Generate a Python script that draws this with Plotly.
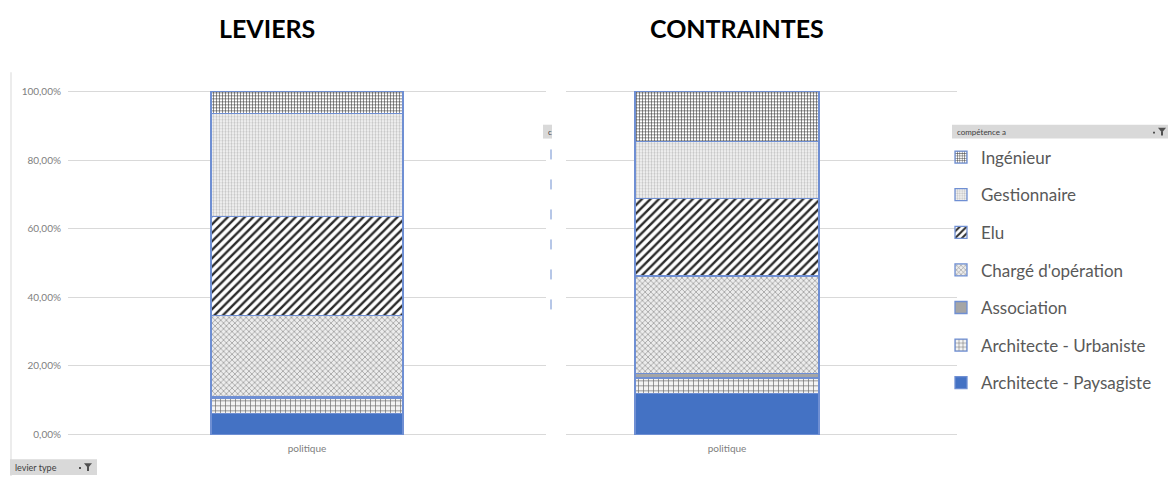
import plotly.graph_objects as go

W, H = 1171, 478

categories = ["politique"]
competences = ["Architecte - Paysagiste", "Architecte - Urbaniste", "Association",
               "Chargé d'opération", "Elu", "Gestionnaire", "Ingénieur"]
leviers = [0.062, 0.042, 0.005, 0.238, 0.290, 0.300, 0.063]
contraintes = [0.119, 0.046, 0.013, 0.284, 0.227, 0.166, 0.145]
titles = ["LEVIERS", "CONTRAINTES"]
y_ticks = [0, 0.2, 0.4, 0.6, 0.8, 1.0]

styles = {
    "Architecte - Paysagiste": dict(color="#4472c4", pattern=dict(shape="")),
    "Architecte - Urbaniste": dict(color="#f4f4f4", pattern=dict(shape="+", fgcolor="#6a6a6a", bgcolor="#f4f4f4", size=5, solidity=0.25, fgopacity=1)),
    "Association": dict(color="#a5a5a5", pattern=dict(shape="")),
    "Chargé d'opération": dict(color="#e6e6e6", pattern=dict(shape="x", fgcolor="#8c8c8c", bgcolor="#ececec", size=4, solidity=0.3, fgopacity=1)),
    "Elu": dict(color="#ffffff", pattern=dict(shape="/", fgcolor="#2b2b2b", bgcolor="#ffffff", size=6, solidity=0.4, fgopacity=1)),
    "Gestionnaire": dict(color="#f4f4f4", pattern=dict(shape=".", fgcolor="#c4c4c4", bgcolor="#f8f8f8", size=3, solidity=0.45, fgopacity=1)),
    "Ingénieur": dict(color="#ffffff", pattern=dict(shape="+", fgcolor="#3a3a3a", bgcolor="#ffffff", size=3, solidity=0.35, fgopacity=1)),
}


def px(x):
    return x / W


def py(y):
    return 1 - y / H


fig = go.Figure()
n = len(competences)
for i, name in enumerate(competences):
    st = styles[name]
    for k, (vals, xa, ya, wd) in enumerate([(leviers, "x", "y", 0.4017), (contraintes, "x2", "y2", 0.4706)]):
        fig.add_trace(go.Bar(
            x=categories, y=[vals[i]], name=name, xaxis=xa, yaxis=ya, width=wd,
            legendgroup=name, showlegend=(k == 0), legendrank=n - i,
            marker=dict(color=st["color"], pattern=st["pattern"],
                        line=dict(color="#6f8fd3", width=1.3)),
        ))

# y domain: 0 -> y0 px, 1 -> y1 px
y0px, y1px = 436.0, 89.7
unit = y0px - y1px
lo, hi = -0.01, 1.01
ydom = [py(y0px - lo * unit), py(y0px - hi * unit)]

fig.update_layout(
    width=W, height=H, margin=dict(l=0, r=0, t=0, b=0),
    paper_bgcolor="white", plot_bgcolor="white",
    barmode="stack", separators=", ",
    font=dict(family="Lato, Open Sans, sans-serif", color="#7f7f7f"),
    xaxis=dict(domain=[px(68), px(546)], range=[-0.5, 0.5], showgrid=False, showline=False,
               ticks="", tickfont=dict(size=10, color="#808080"), ticklabelstandoff=3),
    xaxis2=dict(domain=[px(566), px(957)], range=[-0.4118, 0.5882], anchor="y2", showgrid=False,
                showline=False, ticks="", tickfont=dict(size=10, color="#808080"), ticklabelstandoff=3),
    yaxis=dict(domain=ydom, range=[lo, hi], tickvals=y_ticks, tickformat=".2%",
               showgrid=True, gridcolor="#d9d9d9", gridwidth=1, zeroline=False, showline=False,
               tickfont=dict(size=10, color="#808080"), ticklabelstandoff=6),
    yaxis2=dict(domain=ydom, range=[lo, hi], tickvals=y_ticks, anchor="x2", showticklabels=False,
                showgrid=True, gridcolor="#d9d9d9", gridwidth=1, zeroline=False, showline=False),
    legend=dict(x=px(941), xanchor="left", y=py(138), yanchor="top",
                traceorder="grouped", tracegroupgap=12.5,
                font=dict(size=17, color="#595959", family="Lato, Open Sans, sans-serif"),
                bgcolor="rgba(0,0,0,0)"),
)

# titles
for t, cx in zip(titles, [267, 737]):
    fig.add_annotation(text="<b>%s</b>" % t, x=px(cx), y=py(25), xref="paper", yref="paper",
                       xanchor="center", yanchor="middle",
                       showarrow=False, font=dict(size=25, color="#000000", family="Lato, sans-serif"))

# chart frame line (left)
fig.add_shape(type="line", xref="paper", yref="paper", x0=px(11), x1=px(11), y0=py(70), y1=0,
              line=dict(color="#d9d9d9", width=1))
# dashed blue selection border
fig.add_shape(type="line", xref="paper", yref="paper", x0=px(551), x1=px(551), y0=py(148), y1=py(313),
              line=dict(color="#6f8fd0", width=1, dash="10px,20px"))


def button(x0, y0, x1, y1, label, size):
    fig.add_shape(type="rect", xref="paper", yref="paper", x0=px(x0), x1=px(x1), y0=py(y1), y1=py(y0),
                  fillcolor="#d9d9d9", line=dict(width=0), layer="above")
    fig.add_annotation(text=label, x=px(x0 + 3), y=py((y0 + y1) / 2), xref="paper", yref="paper",
                       xanchor="left", yanchor="middle", showarrow=False,
                       font=dict(size=size, color="#404040", family="Lato, sans-serif"))


def funnel(cx, cy):
    path = "M %f %f L %f %f L %f %f Z" % (px(cx - 4), py(cy - 3), px(cx + 4), py(cy - 3), px(cx), py(cy + 2))
    fig.add_shape(type="path", xref="paper", yref="paper", path=path,
                  fillcolor="#505050", line=dict(width=0))
    fig.add_shape(type="rect", xref="paper", yref="paper", x0=px(cx - 1), x1=px(cx + 1),
                  y0=py(cy + 5), y1=py(cy + 1), fillcolor="#505050", line=dict(width=0))
    fig.add_shape(type="rect", xref="paper", yref="paper", x0=px(cx - 9), x1=px(cx - 7),
                  y0=py(cy + 3), y1=py(cy + 1), fillcolor="#505050", line=dict(width=0))


button(952, 123, 1168, 137, "compétence a", 8)
funnel(1162, 129)
button(10, 461, 97, 477, "levier type", 9)
funnel(88, 468)
button(543, 123, 552, 137, "c", 8)

fig.write_html("out.html", config={"displayModeBar": False},
               post_script="document.body.style.margin='0';document.body.style.overflow='hidden';")
